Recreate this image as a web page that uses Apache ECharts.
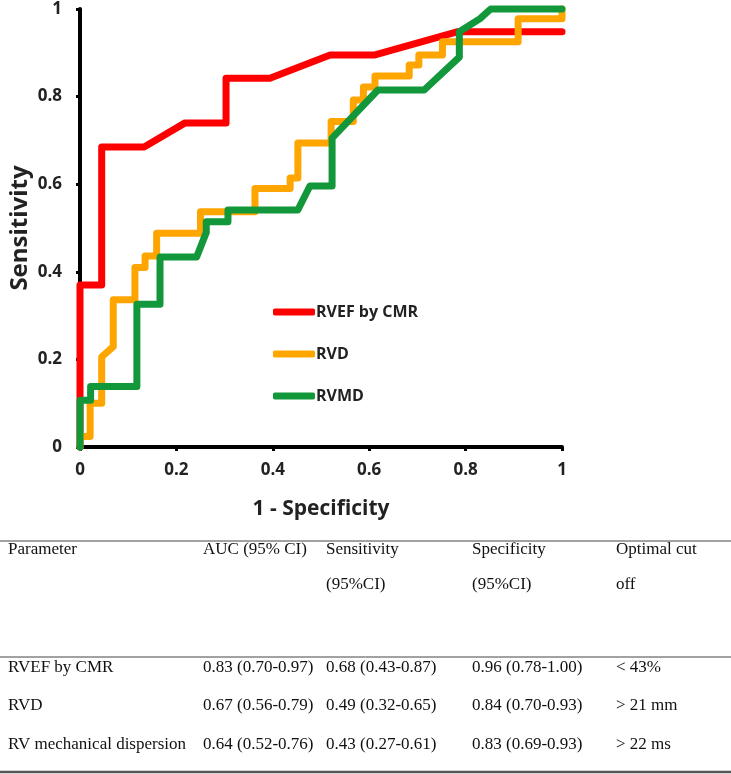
<!DOCTYPE html>
<html>
<head>
<meta charset="utf-8">
<script src="https://cdn.jsdelivr.net/npm/echarts@6/dist/echarts.min.js"></script>
<style>
html,body{margin:0;padding:0;background:#fff;}
#chart{width:731px;height:774px;}
</style>
</head>
<body>
<div id="chart"></div>
<script>
// ---- Data ----
var seriesNames = ['RVEF by CMR', 'RVD', 'RVMD'];
var seriesColors = ['#ff0000', '#ffa500', '#12973a'];

var rvefX = [0, 0, 0.045, 0.045, 0.133, 0.218, 0.303, 0.303, 0.394, 0.519, 0.612, 0.782, 1];
var rvefY = [0, 0.37, 0.37, 0.685, 0.685, 0.74, 0.74, 0.842, 0.842, 0.895, 0.895, 0.948, 0.948];

var rvdX = [0, 0, 0.021, 0.021, 0.045, 0.045, 0.069, 0.069, 0.114, 0.114, 0.135, 0.135, 0.159, 0.159, 0.25, 0.25, 0.363, 0.363, 0.436, 0.436, 0.452, 0.452, 0.521, 0.521, 0.567, 0.567, 0.588, 0.588, 0.612, 0.612, 0.683, 0.683, 0.703, 0.703, 0.752, 0.752, 0.909, 0.909, 1, 1];
var rvdY = [0, 0.024, 0.024, 0.1, 0.1, 0.206, 0.229, 0.336, 0.336, 0.41, 0.41, 0.436, 0.436, 0.488, 0.488, 0.537, 0.537, 0.59, 0.59, 0.614, 0.614, 0.694, 0.694, 0.743, 0.743, 0.792, 0.792, 0.822, 0.822, 0.847, 0.847, 0.872, 0.872, 0.895, 0.895, 0.925, 0.925, 0.978, 0.978, 1];

var rvmdX = [0, 0, 0.022, 0.022, 0.118, 0.118, 0.166, 0.166, 0.242, 0.262, 0.262, 0.307, 0.307, 0.452, 0.477, 0.523, 0.523, 0.618, 0.714, 0.787, 0.787, 0.83, 0.852, 1];
var rvmdY = [0, 0.107, 0.107, 0.138, 0.138, 0.326, 0.326, 0.434, 0.434, 0.49, 0.514, 0.514, 0.541, 0.541, 0.596, 0.596, 0.705, 0.815, 0.815, 0.89, 0.948, 0.978, 1, 1];

var xTitle = '1 - Specificity';
var yTitle = 'Sensitivity';

// Table
var tableHeader1 = ['Parameter', 'AUC (95% CI)', 'Sensitivity', 'Specificity', 'Optimal cut'];
var tableHeader2 = ['', '', '(95%CI)', '(95%CI)', 'off'];
var tableRow1 = ['RVEF by CMR', '0.83 (0.70-0.97)', '0.68 (0.43-0.87)', '0.96 (0.78-1.00)', '< 43%'];
var tableRow2 = ['RVD', '0.67 (0.56-0.79)', '0.49 (0.32-0.65)', '0.84 (0.70-0.93)', '> 21 mm'];
var tableRow3 = ['RV mechanical dispersion', '0.64 (0.52-0.76)', '0.43 (0.27-0.61)', '0.83 (0.69-0.93)', '> 22 ms'];

// ---- Build ----
function pairs(xs, ys) { return xs.map(function (x, i) { return [x, ys[i]]; }); }
var allData = [pairs(rvefX, rvefY), pairs(rvdX, rvdY), pairs(rvmdX, rvmdY)];

var colX = [8, 203, 326, 472, 616];
var tableRowsY = [550, 585, 668, 706, 745];
var tableRows = [tableHeader1, tableHeader2, tableRow1, tableRow2, tableRow3];
var tFont = '17px "Liberation Serif", "Times New Roman", serif';

var graphics = [];
tableRows.forEach(function (row, ri) {
  row.forEach(function (txt, ci) {
    if (!txt) return;
    graphics.push({
      type: 'text', x: colX[ci], y: tableRowsY[ri], silent: true,
      style: { text: txt, font: tFont, fill: '#111', textAlign: 'left', textVerticalAlign: 'middle', verticalAlign: 'middle' }
    });
  });
});
graphics.push({ type: 'line', silent: true, shape: { x1: 0, y1: 541, x2: 731, y2: 541 }, style: { stroke: '#444', lineWidth: 1 } });
graphics.push({ type: 'line', silent: true, shape: { x1: 0, y1: 657, x2: 731, y2: 657 }, style: { stroke: '#444', lineWidth: 1 } });
graphics.push({ type: 'line', silent: true, shape: { x1: 0, y1: 772, x2: 731, y2: 772 }, style: { stroke: '#555', lineWidth: 2.5 } });

var chart = echarts.init(document.getElementById('chart'), null, { renderer: 'canvas' });
var labelFont = { fontFamily: '"Open Sans", sans-serif', fontWeight: 'bold', fontSize: 17, color: '#222' };

chart.setOption({
  animation: false,
  backgroundColor: '#fff',
  grid: { left: 80, right: 169, top: 9, bottom: 327, containLabel: false, outerBoundsMode: 'none' },
  xAxis: {
    type: 'value', min: 0, max: 1, interval: 0.2,
    name: xTitle, nameLocation: 'middle', nameGap: 52,
    nameTextStyle: { fontFamily: '"Open Sans", sans-serif', fontWeight: 'bold', fontSize: 21, color: '#222' },
    axisLine: { show: true, lineStyle: { color: '#000', width: 4 } },
    axisTick: { show: true, length: 4, lineStyle: { color: '#000', width: 3 } },
    axisLabel: Object.assign({ margin: 15 }, labelFont),
    splitLine: { show: false }
  },
  yAxis: {
    type: 'value', min: 0, max: 1, interval: 0.2,
    name: yTitle, nameLocation: 'middle', nameGap: 48, nameMoveOverlap: false,
    nameTextStyle: { fontFamily: '"Open Sans", sans-serif', fontWeight: 'bold', fontSize: 24, color: '#222' },
    axisLine: { show: true, lineStyle: { color: '#000', width: 4 } },
    axisTick: { show: true, length: 4, lineStyle: { color: '#000', width: 3 } },
    axisLabel: Object.assign({ margin: 18 }, labelFont),
    splitLine: { show: false }
  },
  legend: {
    orient: 'vertical', left: 268, top: 297,
    icon: 'roundRect', itemWidth: 42, itemHeight: 7, itemGap: 22,
    textStyle: { fontFamily: '"Open Sans", sans-serif', fontWeight: 'bold', fontSize: 16, color: '#222', lineHeight: 20, padding: [0, 0, 0, -4] },
    data: seriesNames
  },
  series: allData.map(function (d, i) {
    return {
      name: seriesNames[i], type: 'line', data: d, showSymbol: false, symbol: 'none', clip: false,
      color: seriesColors[i],
      lineStyle: { color: seriesColors[i], width: 7, join: 'round', cap: 'round' },
      z: 2 + i
    };
  }),
  graphic: graphics
});
</script>
</body>
</html>
